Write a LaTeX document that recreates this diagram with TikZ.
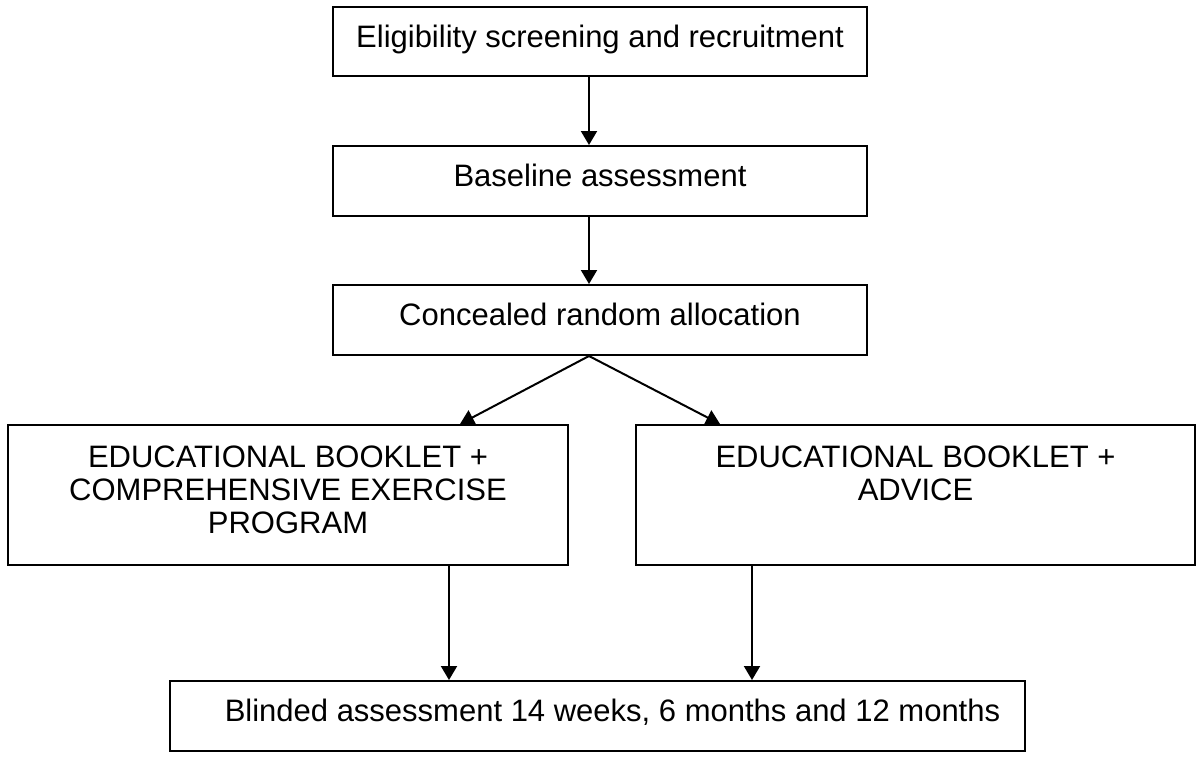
\documentclass[tikz,border=0pt]{standalone}
\usepackage{fontspec}
\setmainfont{Liberation Sans}
\usetikzlibrary{arrows.meta}
\usetikzlibrary{positioning}

\tikzset{
  box/.style={draw, line width=1pt, inner sep=0pt, text height=11.1pt, text depth=5.5pt},
  armtext/.style={align=center, inner sep=0pt},
  flow/.style={line width=1pt, -{Triangle[length=7pt,width=8pt]}}
}

\begin{document}
\begin{tikzpicture}[x=0.5pt, y=-0.5pt, font=\fontsize{15.5}{16.5}\selectfont]
                % Frame
                \useasboundingbox (0,0) rectangle (1200,757);

                % Steps
                \node[box, minimum width=267pt, minimum height=34.5pt] (screen) at (600,41.5) {Eligibility screening and recruitment};
                \node[box, minimum width=267pt, minimum height=35pt] (baseline) at (600,181) {Baseline assessment};
                \node[box, minimum width=267pt, minimum height=35pt] (alloc) at (600,320) {Concealed random allocation};

                % Arms
                \node[box, minimum width=280pt, minimum height=70pt] (armA) at (288,495) {};
                \node[armtext, below=10.5pt of armA.north] (armAtext) {EDUCATIONAL BOOKLET +\\COMPREHENSIVE EXERCISE\\PROGRAM};
                \node[box, minimum width=279.5pt, minimum height=70pt] (armB) at (915.5,495) {};
                \node[armtext, below=10.5pt of armB.north] (armBtext) {EDUCATIONAL BOOKLET +\\ADVICE};

                % Follow-up
                \node[box, minimum width=427.5pt, minimum height=35pt] (blinded) at (597.5,716) {\hspace*{15pt}Blinded assessment 14 weeks, 6 months and 12 months};

                % Arrows
                \draw[flow] ([xshift=-5.5pt]screen.south) -- ([xshift=-5.5pt]baseline.north);
                \draw[flow] ([xshift=-5.5pt]baseline.south) -- ([xshift=-5.5pt]alloc.north);
                \draw[flow] ([xshift=-5.5pt]alloc.south) -- ([xshift=86pt]armA.north);
                \draw[flow] ([xshift=-5.5pt]alloc.south) -- ([xshift=-97.75pt]armB.north);
                \draw[flow] ([xshift=80.5pt]armA.south) -- ([xshift=80.5pt]armA.south |- blinded.north);
                \draw[flow] ([xshift=-81.75pt]armB.south) -- ([xshift=-81.75pt]armB.south |- blinded.north);
\end{tikzpicture}
\end{document}
